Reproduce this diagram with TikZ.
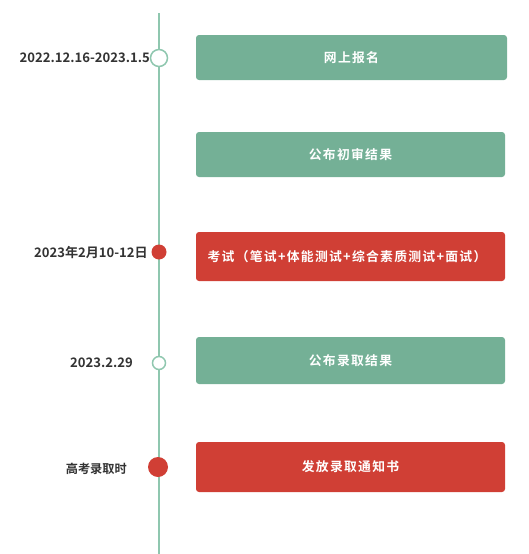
\documentclass[tikz,border=0pt]{standalone}
\usepackage{fontspec}
\setmainfont{Noto Sans CJK SC}
\newfontfamily\boxfont[LetterSpace=10]{Noto Sans CJK SC Bold}
\newfontfamily\labfont{Noto Sans CJK SC Bold}
\definecolor{tgreen}{HTML}{74B096}
\definecolor{tred}{HTML}{D03F35}
\definecolor{tline}{HTML}{8FC7AF}
\definecolor{tlab}{HTML}{333333}
\begin{document}
\begin{tikzpicture}[x=1pt,y=-1pt,
  bartext/.style={text=white,inner sep=0pt,font=\boxfont\fontsize{12.8}{14}\selectfont},
  lab/.style={anchor=east,inner sep=0pt,text=tlab,font=\labfont\fontsize{13.1}{15}\selectfont},
  hollow/.style={circle,draw=tline,line width=1.5pt,fill=white,inner sep=0pt},
  solid/.style={circle,fill=tred,inner sep=0pt}]
\useasboundingbox (0,0) rectangle (528,554);
\coordinate (top) at (159,13);
\coordinate (bot) at (159,554);
\draw[tline,line width=2pt] (top) -- (bot);
% boxes
\fill[tgreen,rounded corners=3pt] (196,35) rectangle (507,80);
\node[bartext] (b1) at (351.5,57.5) {网上报名};
\fill[tgreen,rounded corners=3pt] (196,132) rectangle (505,177);
\node[bartext] (b2) at (350.5,154.5) {公布初审结果};
\fill[tred,rounded corners=3pt] (196,232) rectangle (505,281);
\node[bartext] (b3) at (347,256.5) {考试（笔试+体能测试+综合素质测试+面试）};
\fill[tgreen,rounded corners=3pt] (196,337) rectangle (505,384);
\node[bartext] (b4) at (350.5,360.5) {公布录取结果};
\fill[tred,rounded corners=3pt] (196,442) rectangle (505,492);
\node[bartext] (b5) at (350.5,467) {发放录取通知书};
% markers
\node[hollow,minimum size=17pt] (m1) at (159,58) {};
\node[solid,minimum size=15pt] (m2) at (159,252) {};
\node[hollow,minimum size=13pt] (m3) at (159,363) {};
\node[solid,minimum size=20pt] (m4) at (158,467) {};
% labels
\node[lab] (l1) at (150,58) {2022.12.16-2023.1.5};
\node[lab] (l2) at (148,252) {2023年2月10-12日};
\node[lab] (l3) at (133,363) {2023.2.29};
\node[lab,font=\labfont\fontsize{12.2}{14}\selectfont] (l4) at (127,469) {高考录取时};
\end{tikzpicture}
\end{document}
